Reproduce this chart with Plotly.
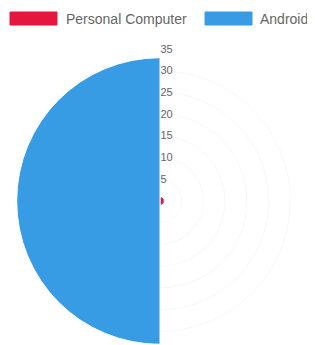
import plotly.graph_objects as go

categories = ["Personal Computer", "Android"]
values = [1, 33]
colors = ["#e5173f", "#389ce4"]
tick_values = [5, 10, 15, 20, 25, 30, 35]
tick_labels = ["5", "10", "15", "20", "25", "30", "35"]
r_max = 35

W, H = 315, 345
OFF = 8  # page body margin offset
n = len(categories)
span = 360 / n

fig = go.Figure()
for i, (cat, val, col) in enumerate(zip(categories, values, colors)):
    fig.add_trace(go.Barpolar(
        r=[val],
        theta=[span * (i + 0.5)],
        width=[span],
        name=cat,
        marker=dict(color=col, line=dict(color="white", width=1)),
        hoverinfo="name+r",
        showlegend=False,
    ))

# custom Chart.js-style legend (wide colour boxes + labels)
legend_box_x = [10, 205]
legend_text_x = [64, 258]
shapes, annos = [], []
for cat, col, bx, tx in zip(categories, colors, legend_box_x, legend_text_x):
    shapes.append(dict(type="rect", xref="paper", yref="paper",
                       x0=(bx - OFF) / W, x1=(bx + 47 - OFF) / W,
                       y0=1 - (25 - OFF) / H, y1=1 - (12 - OFF) / H,
                       fillcolor=col, line=dict(color=col, width=1)))
    annos.append(dict(text=cat, xref="paper", yref="paper",
                      x=(tx - OFF) / W, y=1 - (18.5 - OFF) / H,
                      xanchor="left", yanchor="middle", showarrow=False,
                      font=dict(size=14, color="#666")))

cx, cy, rad = 160 - OFF, 201 - OFF, 152
fig.update_layout(
    width=W, height=H,
    margin=dict(l=0, r=0, t=0, b=0),
    paper_bgcolor="white",
    font=dict(family="Liberation Sans, Arial, sans-serif", color="#666"),
    showlegend=False,
    shapes=shapes,
    annotations=annos,
    polar=dict(
        domain=dict(x=[max(0, (cx - rad) / W), (cx + rad) / W],
                    y=[max(0, 1 - (cy + rad) / H), 1 - (cy - rad) / H]),
        bgcolor="white",
        bargap=0,
        angularaxis=dict(rotation=90, direction="clockwise", showticklabels=False,
                         showgrid=False, showline=False, ticks=""),
        radialaxis=dict(range=[0, r_max], tickvals=tick_values, ticktext=tick_labels,
                        angle=90, tickangle=90, side="clockwise", showline=False, ticks="",
                        gridcolor="rgba(0,0,0,0.035)",
                        tickfont=dict(size=11, color="#666")),
    ),
)

fig.write_html("out.html")
